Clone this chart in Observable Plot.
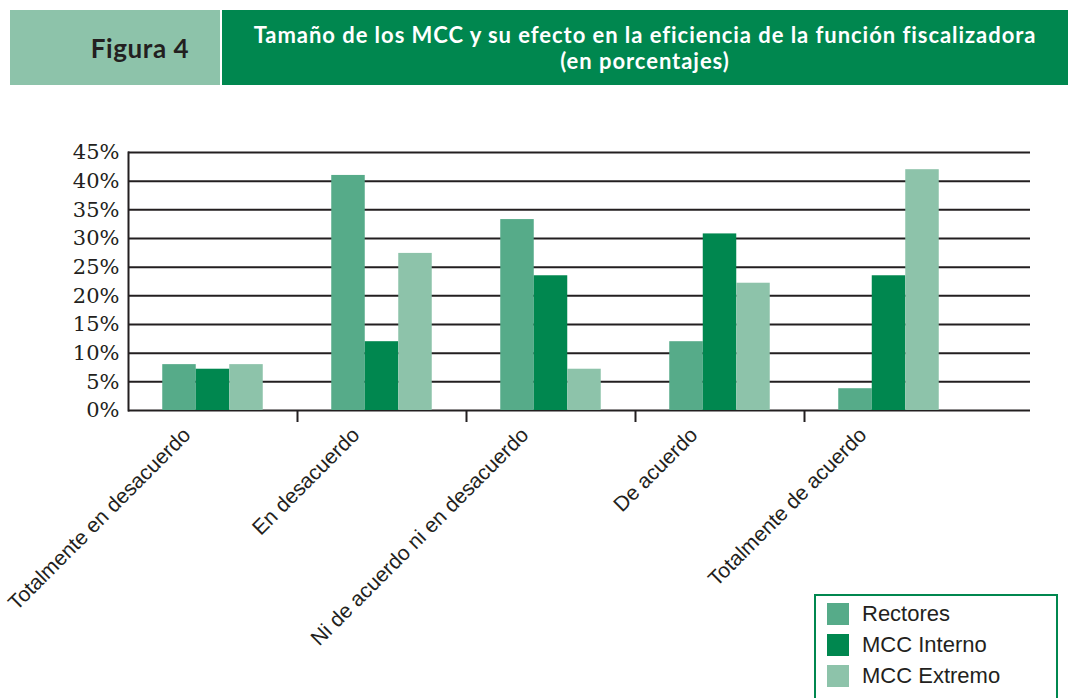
<!DOCTYPE html>
<html>
<head>
<meta charset="utf-8">
<script src="https://cdn.jsdelivr.net/npm/d3@7"></script>
<script src="https://cdn.jsdelivr.net/npm/@observablehq/plot@0.6"></script>
<style>
  body { margin: 0; background: #fff; }
  #wrap { position: relative; width: 1068px; height: 698px; overflow: hidden; }
  #fig { position: absolute; left: 10px; top: 10px; width: 210px; height: 75px; background: #8dc3aa;
         display: flex; align-items: center; justify-content: center; padding-left: 50px; box-sizing: border-box;
         font-family: Lato, "Open Sans", sans-serif; font-weight: 700; font-size: 26px; letter-spacing: 0.6px; color: #231f20; }
  #ttl { position: absolute; left: 222px; top: 10px; width: 846px; height: 75px; background: #00874f;
         display: flex; flex-direction: column; align-items: center; justify-content: center;
         font-family: Lato, "Open Sans", sans-serif; font-weight: 700; font-size: 22px; letter-spacing: 0.95px; line-height: 26px; color: #fff; }
  #ttl div { white-space: nowrap; }
  #chart { position: absolute; left: 0; top: 95px; }
  #legend { position: absolute; left: 814px; top: 594px; width: 244px; height: 120px; border: 2px solid #00874f;
            box-sizing: border-box; background: #fff; padding: 2px 0 0 11px;
            font-family: "Liberation Sans", Arial, sans-serif; font-size: 22px; color: #231f20; }
  .item { display: flex; align-items: center; height: 31px; }
  .sw { width: 22px; height: 22px; margin-right: 13px; }
</style>
</head>
<body>
<div id="wrap">
  <div id="fig">Figura 4</div>
  <div id="ttl"></div>
  <div id="chart"></div>
  <div id="legend"></div>
</div>
<script>
const titleLines = ["Tamaño de los MCC y su efecto en la eficiencia de la función fiscalizadora", "(en porcentajes)"];
const categories = ["Totalmente en desacuerdo", "En desacuerdo", "Ni de acuerdo ni en desacuerdo", "De acuerdo", "Totalmente de acuerdo"];
const series = ["Rectores", "MCC Interno", "MCC Extremo"];
const colors = ["#56ab89", "#00874f", "#8dc3aa"];
const rectores = [8, 41, 33.3, 12, 3.8];
const interno = [7.2, 12, 23.5, 30.8, 23.5];
const extremo = [8, 27.4, 7.2, 22.2, 42];
const yTicks = [0, 5, 10, 15, 20, 25, 30, 35, 40, 45];

const values = [rectores, interno, extremo];
const data = series.flatMap((s, j) => categories.map((c, i) => ({category: c, series: s, value: values[j][i]})));

d3.select("#ttl").selectAll("div").data(titleLines).join("div").text(d => d);

const ink = "#231f20";
const barW = 33.5;
const step = 169;
const inset = (step - barW) / 2;

const chart = Plot.plot({
  width: 1068,
  height: 603,
  marginLeft: 128,
  marginRight: 38,
  marginTop: 57,
  marginBottom: 288,
  x: {type: "band", domain: categories, paddingInner: 0, paddingOuter: 0.1686, align: 0, axis: null},
  y: {domain: [0, 45], axis: null},
  color: {domain: series, range: colors},
  marks: [
    Plot.ruleY(yTicks, {stroke: ink, strokeWidth: 2}),
    ...series.map((s, j) => Plot.barY(data.filter(d => d.series === s), {
      x: "category", y: "value", fill: "series",
      insetLeft: inset, insetRight: inset, dx: (j - 1) * barW
    })),
    Plot.frame({anchor: "left", stroke: ink, strokeWidth: 2}),
    Plot.axisY({ticks: yTicks, tickSize: 0, tickPadding: 9, tickFormat: d => d + "%", label: null,
      fontSize: 21, fontFamily: "DejaVu Serif, serif", fill: ink}),
    Plot.axisX({ticks: categories.slice(1), tickSize: 12, tickFormat: () => "", label: null,
      stroke: ink, strokeWidth: 2, dx: -step / 2}),
    Plot.axisX({ticks: categories, tickSize: 0, tickPadding: 10, tickRotate: -45, textAnchor: "end", label: null,
      fontSize: 21, fontFamily: "Liberation Sans, Arial, sans-serif", fill: ink, dx: -26, dy: 11})
  ]
});
chart.style.fontFamily = "Liberation Sans, Arial, sans-serif";
document.getElementById("chart").appendChild(chart);

const lg = d3.select("#legend").selectAll(".item").data(series).join("div").attr("class", "item");
lg.append("div").attr("class", "sw").style("background", (d, i) => colors[i]);
lg.append("span").text(d => d);
</script>
</body>
</html>
